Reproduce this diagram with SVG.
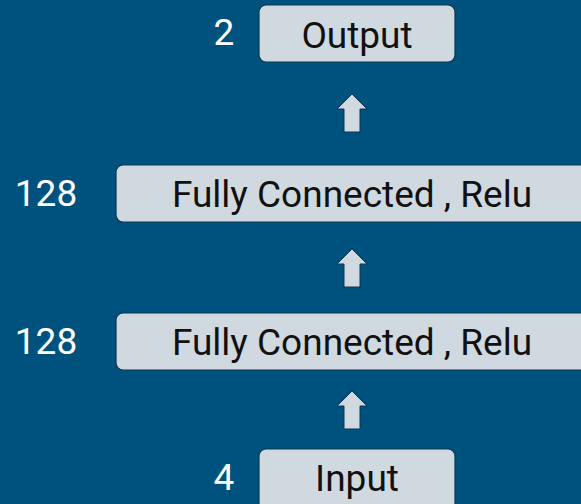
<svg xmlns="http://www.w3.org/2000/svg" width="581" height="504" viewBox="0 0 581 504">
<style>
.box{fill:#d1d9e0;stroke:#0b3552;stroke-width:1.2}
.lbl{font-family:Roboto,"Liberation Sans",sans-serif;font-size:37px;fill:#111111;text-anchor:middle}
.num{font-family:Roboto,"Liberation Sans",sans-serif;font-size:37px;fill:#ffffff;text-anchor:middle}
.arr{fill:#d1d9e0;stroke:#0b3552;stroke-width:1}
</style>
<rect width="581" height="504" fill="#00527e"/>
<g id="output">
<rect class="box" x="259" y="5" width="196" height="57" rx="7"/>
<text class="lbl" x="357" y="48">Output</text>
<text class="num" x="224" y="45">2</text>
</g>
<g id="fc1">
<rect class="box" x="116" y="165" width="480" height="57" rx="7"/>
<text class="lbl" x="352" y="207">Fully Connected , Relu</text>
<text class="num" x="46" y="206">128</text>
</g>
<g id="fc2">
<rect class="box" x="116" y="313" width="480" height="57" rx="7"/>
<text class="lbl" x="352" y="355">Fully Connected , Relu</text>
<text class="num" x="46" y="354">128</text>
</g>
<g id="input">
<rect class="box" x="259" y="449" width="196" height="70" rx="7"/>
<text class="lbl" x="357" y="491">Input</text>
<text class="num" x="224" y="490">4</text>
</g>
<g id="connectors">
<path class="arr" d="M352 94 L367 109 L360 109 L360 132 L344 132 L344 109 L337 109 Z"/>
<path class="arr" d="M352 249 L367 264 L360 264 L360 287 L344 287 L344 264 L337 264 Z"/>
<path class="arr" d="M352 391 L367 406 L360 406 L360 429 L344 429 L344 406 L337 406 Z"/>
</g>
</svg>
